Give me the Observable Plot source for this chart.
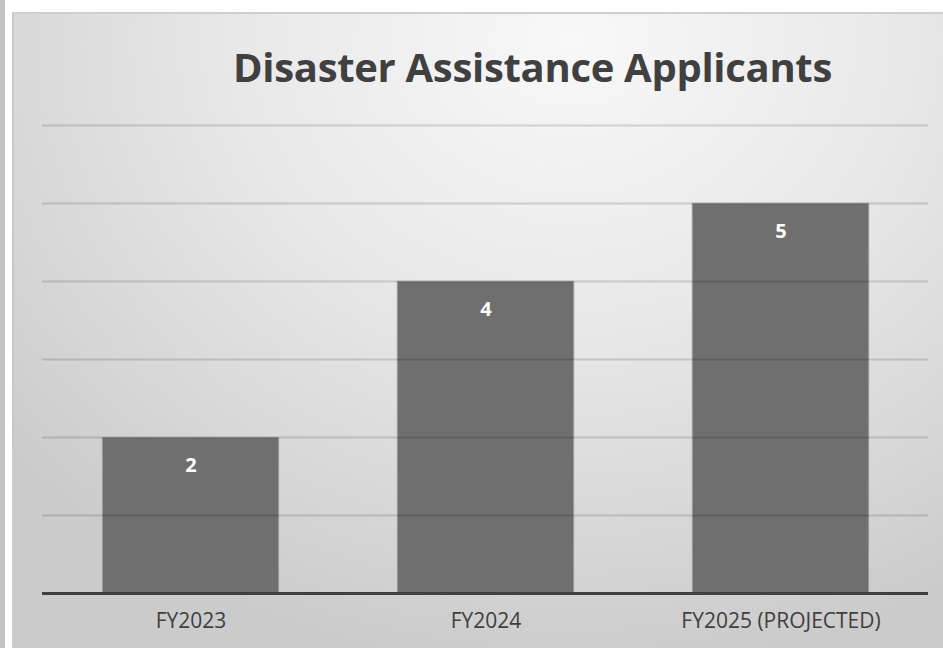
<!DOCTYPE html>
<html>
<head>
<meta charset="utf-8">
<script src="https://cdn.jsdelivr.net/npm/d3@7"></script>
<script src="https://cdn.jsdelivr.net/npm/@observablehq/plot@0.6"></script>
<style>
  html, body { margin: 0; padding: 0; width: 943px; height: 648px; overflow: hidden; background: #fff; }
  #strip { position: absolute; left: 0; top: 0; width: 5px; height: 648px; background: #c4c4c4; }
  #panel {
    position: absolute; left: 12px; top: 12px; width: 931px; height: 636px;
    box-sizing: border-box; border-top: 2px solid #cfcfcf; border-left: 2px solid #c9c9c9;
    background: radial-gradient(ellipse 80% 100% at 60% 4%, #f8f8f8 0%, #e8e8e8 45%, #d6d6d6 80%, #cbcbcb 100%);
  }
  #title {
    position: absolute; left: 0; top: 29px; width: 100%; text-align: center;
    padding-left: 108px; box-sizing: border-box;
    font-family: "Open Sans", sans-serif; font-weight: 700; font-size: 40px; color: #404040;
    letter-spacing: -0.3px; line-height: 1.2;
  }
  #chart { position: absolute; left: -2px; top: 96px; }
</style>
</head>
<body>
<div id="strip"></div>
<div id="panel">
  <div id="title">Disaster Assistance Applicants</div>
  <div id="chart"></div>
</div>
<script>
const categories = ["FY2023", "FY2024", "FY2025 (PROJECTED)"];
const values = [2, 4, 5];
const yTicks = [0, 1, 2, 3, 4, 5, 6];

const data = categories.map((c, i) => ({category: c, value: values[i]}));

const plot = Plot.plot({
  width: 931,
  height: 540,
  marginTop: 15,
  marginBottom: 57,
  marginLeft: 30,
  marginRight: 15,
  style: {background: "transparent", fontFamily: "'Open Sans', sans-serif", fontSize: "16px"},
  x: {domain: categories, padding: 0.4, paddingOuter: 0.2, label: null, axis: null},
  y: {domain: [0, 6], label: null, axis: null},
  marks: [
    Plot.barY(data, {x: "category", y: "value", fill: "#6f6f6f", stroke: "#c4c4c4", strokeWidth: 1}),
    Plot.ruleY(yTicks.filter(d => d > 0), {stroke: "#000", strokeOpacity: 0.14, strokeWidth: 2}),
    Plot.ruleY([0], {stroke: "#404040", strokeWidth: 3}),
    Plot.text(data, {x: "category", y: "value", text: d => String(d.value), dy: 28, fill: "white", fontWeight: "bold", fontSize: 20}),
    Plot.text(categories, {x: d => d, frameAnchor: "bottom", dy: 34, fill: "#404040", fontSize: 21, text: d => d})
  ]
});
document.getElementById("chart").appendChild(plot);
</script>
</body>
</html>
